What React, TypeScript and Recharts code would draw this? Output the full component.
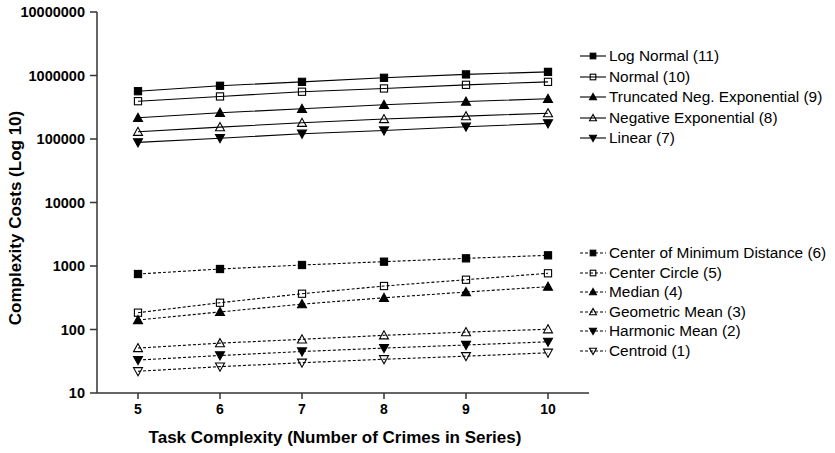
import React from 'react';
import { LineChart, Line, XAxis, YAxis, Label } from 'recharts';

const crimes = [5, 6, 7, 8, 9, 10];
const yTicks = [10, 100, 1000, 10000, 100000, 1000000, 10000000];

// continuous distributions (solid lines)
const logNormal = [566000, 689000, 794000, 920000, 1040000, 1140000];
const normal = [394000, 468000, 555000, 625000, 713000, 794000];
const truncNegExp = [216000, 259000, 299000, 346000, 389000, 430000];
const negExp = [130000, 154000, 180000, 206000, 229000, 255000];
const linear = [88500, 103000, 121000, 136000, 156000, 176000];

// centrographic measures (dashed lines)
const centerMinDist = [748, 897, 1037, 1170, 1320, 1473];
const centerCircle = [184, 264, 366, 484, 608, 768];
const median = [141, 189, 251, 316, 389, 472];
const geometricMean = [51, 61, 70, 81, 91, 101];
const harmonicMean = [33, 39, 45, 51, 57, 64];
const centroid = [22, 26, 30, 34, 38, 43];

type Shape = 'square' | 'up' | 'down';

const series = [
  { key: 's11', name: 'Log Normal (11)', values: logNormal, shape: 'square' as Shape, filled: true, dashed: false },
  { key: 's10', name: 'Normal (10)', values: normal, shape: 'square' as Shape, filled: false, dashed: false },
  { key: 's9', name: 'Truncated Neg. Exponential (9)', values: truncNegExp, shape: 'up' as Shape, filled: true, dashed: false },
  { key: 's8', name: 'Negative Exponential (8)', values: negExp, shape: 'up' as Shape, filled: false, dashed: false },
  { key: 's7', name: 'Linear (7)', values: linear, shape: 'down' as Shape, filled: true, dashed: false },
  { key: 's6', name: 'Center of Minimum Distance (6)', values: centerMinDist, shape: 'square' as Shape, filled: true, dashed: true },
  { key: 's5', name: 'Center Circle (5)', values: centerCircle, shape: 'square' as Shape, filled: false, dashed: true },
  { key: 's4', name: 'Median (4)', values: median, shape: 'up' as Shape, filled: true, dashed: true },
  { key: 's3', name: 'Geometric Mean (3)', values: geometricMean, shape: 'up' as Shape, filled: false, dashed: true },
  { key: 's2', name: 'Harmonic Mean (2)', values: harmonicMean, shape: 'down' as Shape, filled: true, dashed: true },
  { key: 's1', name: 'Centroid (1)', values: centroid, shape: 'down' as Shape, filled: false, dashed: true },
];

const data = crimes.map((x, i) => {
  const row: Record<string, number> = { x };
  series.forEach(s => { row[s.key] = s.values[i]; });
  return row;
});

const FONT = '"Liberation Sans", Arial, Helvetica, sans-serif';
const DASH = '3 2';
const titleStyle = { fill: '#000', fontSize: 17, fontWeight: 700, fontFamily: FONT };

const Marker = ({ cx, cy, shape, filled, r = 3.6 }: { cx: number; cy: number; shape: Shape; filled: boolean; r?: number }) => {
  const fill = filled ? '#000' : 'none';
  if (shape === 'square') {
    return <rect x={cx - r} y={cy - r} width={r * 2} height={r * 2} fill={fill} stroke="#000" strokeWidth={1.1} />;
  }
  const h = r * 1.25;
  const pts = shape === 'up'
    ? `${cx},${cy - h} ${cx - h},${cy + r} ${cx + h},${cy + r}`
    : `${cx},${cy + h} ${cx - h},${cy - r} ${cx + h},${cy - r}`;
  return <polygon points={pts} fill={fill} stroke="#000" strokeWidth={1.1} />;
};

const LegendGroup = ({ items, top, step }: { items: typeof series; top: number; step: number }) => (
  <div style={{ position: 'absolute', left: 579, top: top - step / 2 }}>
    {items.map(s => (
      <div key={s.key} style={{ display: 'flex', alignItems: 'center', height: step }}>
        <svg width={28} height={12} style={{ marginRight: 2 }}>
          <line x1={1} y1={6} x2={27} y2={6} stroke="#000" strokeWidth={1.1} strokeDasharray={s.dashed ? DASH : undefined} />
          <Marker cx={14} cy={6} shape={s.shape} filled={s.filled} r={2.8} />
        </svg>
        <span style={{ fontFamily: FONT, fontSize: 15.4, color: '#000', whiteSpace: 'nowrap' }}>{s.name}</span>
      </div>
    ))}
  </div>
);

export default function App() {
  return (
    <div style={{ position: 'absolute', left: 0, top: 0, width: 835, height: 453, background: '#fff' }}>
      <LineChart width={835} height={453} data={data} margin={{ top: 12, right: 246, bottom: 0, left: 0 }}>
        <XAxis
          type="number"
          dataKey="x"
          domain={[4.5, 10.5]}
          ticks={crimes}
          height={60}
          tickSize={6}
          tickMargin={5}
          stroke="#333"
          strokeWidth={1.5}
          tick={{ fill: '#000', fontSize: 14, fontWeight: 700, fontFamily: FONT }}
        >
          <Label
            content={() => (
              <text x={335} y={437} textAnchor="middle" dominantBaseline="central" style={titleStyle}>
                Task Complexity (Number of Crimes in Series)
              </text>
            )}
          />
        </XAxis>
        <YAxis
          scale="log"
          domain={[10, 10000000]}
          ticks={yTicks}
          allowDataOverflow
          width={97}
          tickSize={7}
          tickMargin={5}
          stroke="#333"
          strokeWidth={1.5}
          tick={{ fill: '#000', fontSize: 14.5, fontWeight: 700, fontFamily: FONT }}
        >
          <Label
            content={() => (
              <text x={15} y={218} transform="rotate(-90 15 218)" textAnchor="middle" dominantBaseline="central" style={titleStyle}>
                Complexity Costs (Log 10)
              </text>
            )}
          />
        </YAxis>
        {series.map(s => (
          <Line
            key={s.key}
            dataKey={s.key}
            name={s.name}
            stroke="#000"
            strokeWidth={1.1}
            strokeDasharray={s.dashed ? DASH : undefined}
            isAnimationActive={false}
            dot={(p: any) => <Marker key={`${s.key}-${p.index}`} cx={p.cx} cy={p.cy} shape={s.shape} filled={s.filled} />}
            activeDot={false}
          />
        ))}
      </LineChart>
      <LegendGroup items={series.slice(0, 5)} top={56} step={20.5} />
      <LegendGroup items={series.slice(5)} top={253} step={19.5} />
    </div>
  );
}
